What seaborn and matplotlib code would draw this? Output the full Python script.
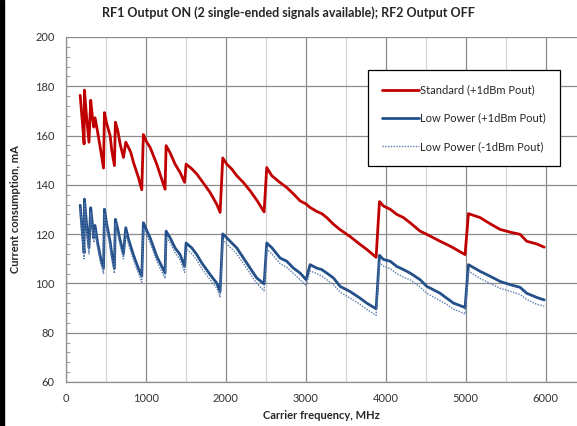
import pandas as pd
import numpy as np
import matplotlib
matplotlib.use("Agg")
import matplotlib.pyplot as plt
from matplotlib.patches import Rectangle
from matplotlib.ticker import MultipleLocator
import seaborn as sns

# Carrier frequency (MHz) shared by all three curves
freq = [180, 205, 229, 233, 260, 290, 312, 333, 350, 366, 395, 437, 472, 483, 512,
        554, 575, 608, 620, 650, 679, 721, 750, 783, 812, 846, 908, 950, 970, 1012,
        1054, 1137, 1241, 1254, 1304, 1366, 1429, 1485, 1504, 1575, 1637, 1700, 1804,
        1887, 1929, 1962, 2012, 2075, 2137, 2221, 2304, 2387, 2479, 2512, 2575, 2679,
        2762, 2846, 2929, 3004, 3054, 3137, 3200, 3262, 3346, 3429, 3554, 3679, 3762,
        3879, 3921, 3971, 4054, 4137, 4221, 4304, 4429, 4512, 4596, 4679, 4762, 4846,
        4929, 4991, 5033, 5179, 5304, 5429, 5554, 5679, 5762, 5887, 5980]

# Standard (+1dBm Pout), mA
standard = [176.3, 166.5, 156.6, 178.4, 167.5, 157.3, 174.3, 167.5, 163.4, 167.2, 162.0,
            153.9, 146.8, 169.3, 164.8, 160.0, 153.9, 147.8, 165.4, 162.0, 156.6, 151.1,
            157.3, 155.2, 153.2, 149.1, 143.0, 138.0, 160.4, 157.3, 155.2, 148.4, 138.2,
            155.9, 153.0, 148.4, 145.0, 141.0, 148.4, 146.5, 144.4, 141.6, 136.9, 132.1,
            128.8, 150.9, 148.4, 146.4, 143.7, 140.9, 137.6, 133.8, 129.0, 147.0, 143.7,
            140.9, 138.9, 136.3, 133.5, 132.2, 130.8, 129.2, 128.3, 126.7, 124.0, 121.8,
            119.0, 115.8, 113.8, 110.6, 133.2, 131.4, 130.1, 128.0, 126.7, 124.6, 121.2,
            119.9, 118.5, 117.1, 115.8, 114.4, 112.8, 111.7, 128.3, 126.7, 124.2, 121.9,
            120.8, 119.9, 117.1, 116.0, 114.7]

# Low Power (+1dBm Pout), mA
low_p1 = [131.7, 121.5, 112.4, 134.2, 124.0, 114.4, 130.7, 124.0, 118.5, 123.5, 117.0,
          110.0, 106.2, 130.1, 124.0, 117.0, 112.0, 106.2, 126.0, 122.0, 117.5, 112.0,
          122.6, 118.0, 115.0, 111.5, 106.0, 102.9, 124.6, 121.5, 118.5, 111.0, 104.2,
          121.2, 118.5, 114.4, 111.7, 106.9, 116.4, 114.4, 111.7, 108.3, 103.6, 100.1,
          96.7, 120.1, 118.5, 116.4, 114.4, 110.3, 106.2, 102.2, 99.8, 116.4, 114.5,
          110.3, 109.0, 106.2, 104.2, 101.5, 107.6, 106.2, 105.6, 104.2, 102.2, 98.8,
          96.7, 94.0, 92.0, 89.7, 111.4, 109.7, 109.0, 106.9, 105.6, 104.2, 101.5,
          98.8, 97.4, 96.0, 94.0, 92.0, 91.0, 90.2, 107.6, 104.9, 102.9, 100.8,
          99.5, 98.4, 96.0, 94.3, 93.3]

# Low Power (-1dBm Pout), mA
low_m1 = [130.5, 119.5, 110.0, 132.5, 122.0, 112.0, 129.0, 122.0, 116.5, 121.5, 115.0,
          108.0, 104.0, 128.5, 122.0, 115.0, 110.0, 104.0, 124.5, 120.0, 115.5, 110.0,
          120.5, 116.0, 113.0, 109.5, 104.0, 100.5, 122.5, 119.5, 116.5, 109.0, 102.0,
          119.0, 116.5, 112.5, 109.5, 104.5, 114.0, 112.0, 109.5, 106.0, 101.5, 98.0,
          94.5, 117.5, 116.0, 114.0, 112.0, 108.0, 104.0, 100.0, 97.0, 114.0, 112.0,
          108.0, 106.5, 104.0, 101.5, 99.0, 105.0, 104.0, 103.0, 101.5, 99.5, 96.5,
          94.0, 91.5, 89.5, 87.0, 108.5, 107.0, 106.0, 104.0, 102.5, 101.5, 98.5,
          96.0, 94.5, 93.0, 91.5, 89.5, 88.5, 87.5, 105.0, 102.0, 100.0, 98.0,
          96.8, 95.5, 93.5, 91.5, 90.8]

labels = ["Standard (+1dBm Pout)", "Low Power (+1dBm Pout)", "Low Power (-1dBm Pout)"]

sns.set_style("white")
plt.rcParams["font.family"] = ["Lato", "DejaVu Sans"]

df = pd.DataFrame({"freq": freq, "std": standard, "lp1": low_p1, "lm1": low_m1})

fig = plt.figure(figsize=(5.77, 4.26), dpi=100)
ax = fig.add_axes([0.114, 0.1033, 0.886, 0.81])

sns.lineplot(data=df, x="freq", y="std", ax=ax, color="#C00000", linewidth=2.0,
             label=labels[0])
sns.lineplot(data=df, x="freq", y="lp1", ax=ax, color="#24508A", linewidth=2.0,
             label=labels[1])
sns.lineplot(data=df, x="freq", y="lm1", ax=ax, color="#5B7DAE", linewidth=1.0,
             linestyle=(0, (1, 1)), label=labels[2])

ax.set_xlim(0, 6390)
ax.set_ylim(60, 200)
ax.xaxis.set_major_locator(MultipleLocator(1000))
ax.xaxis.set_minor_locator(MultipleLocator(500))
ax.yaxis.set_major_locator(MultipleLocator(20))
ax.yaxis.set_minor_locator(MultipleLocator(4))

ax.grid(True, which="major", axis="both", color="#8C8C8C", linewidth=0.9)
ax.grid(True, which="minor", axis="x", color="#D4D4D4", linewidth=0.9)
ax.set_axisbelow(True)

for s in ["top", "right"]:
    ax.spines[s].set_visible(False)
for s in ["left", "bottom"]:
    ax.spines[s].set_color("#8C8C8C")
    ax.spines[s].set_linewidth(0.9)

ax.tick_params(axis="both", which="major", labelsize=8, colors="#333333", length=0, pad=8)
ax.tick_params(axis="y", which="minor", direction="in", length=3, color="#8C8C8C", left=True)
ax.tick_params(axis="x", which="minor", length=0)

ax.set_xlabel("Carrier frequency, MHz", fontsize=8, fontweight="bold", labelpad=4)
ax.set_ylabel("Current consumption, mA", fontsize=8, fontweight="bold", labelpad=10)
fig.suptitle("RF1 Output ON (2 single-ended signals available); RF2 Output OFF",
             x=0.5, y=0.985, fontsize=9, fontweight="bold")

leg = ax.legend(loc="upper left", bbox_to_anchor=(0.591, 0.904), fontsize=8,
                frameon=True, fancybox=False, edgecolor="black", framealpha=1,
                handlelength=3.3, handletextpad=0.1, labelspacing=1.55,
                borderpad=1.3, borderaxespad=0)
leg.get_frame().set_linewidth(0.9)

fig.patches.append(Rectangle((0, 0), 4 / 577, 1, transform=fig.transFigure,
                             color="black", zorder=10))

fig.savefig("out.png", dpi=100)
